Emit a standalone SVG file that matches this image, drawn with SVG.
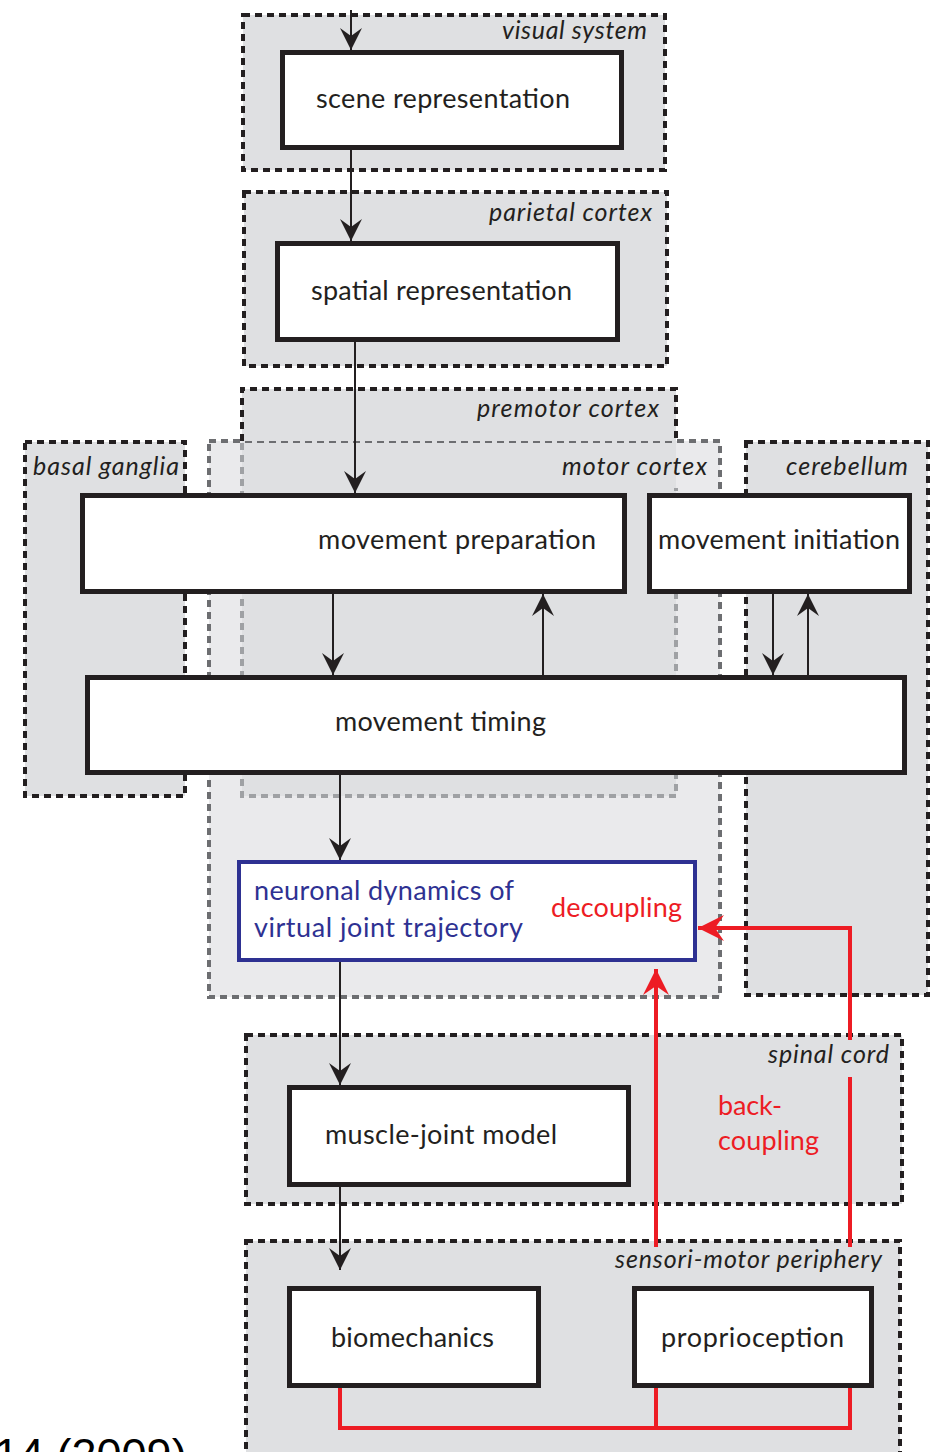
<svg xmlns="http://www.w3.org/2000/svg" width="933" height="1452" viewBox="0 0 933 1452">
<style>
.reg{fill:#dfe0e2}
.regl{fill:#eaeaec}
.bd{fill:none;stroke:#231f20;stroke-width:4;stroke-dasharray:7 5}
.gd{fill:none;stroke:#6d6e71;stroke-width:4;stroke-dasharray:7 5}
.ld{fill:none;stroke:#9fa1a4;stroke-width:4;stroke-dasharray:7 5}
.box{fill:#fff;stroke:#231f20;stroke-width:5}
.bbox{fill:#fff;stroke:#2e3192;stroke-width:4}
.t{font-family:Lato,"Open Sans",sans-serif;font-size:27px;fill:#231f20}
.lab{font-family:Lato,"Open Sans",sans-serif;font-size:25px;font-style:italic;fill:#231f20}
.blue{fill:#2e3192}
.red{fill:#ed1c24}
.c{fill:none;stroke:#231f20;stroke-width:2}
.rc{fill:none;stroke:#ed1c24;stroke-width:4}
</style>
<defs>
<marker id="ah" viewBox="-23 -12 24 24" refX="0" refY="0" markerWidth="24" markerHeight="24" markerUnits="userSpaceOnUse" orient="auto">
<path d="M0,0 L-22,-11 L-14,0 L-22,11 Z" fill="#231f20"/>
</marker>
<marker id="rah" viewBox="-27 -14 28 28" refX="0" refY="0" markerWidth="28" markerHeight="28" markerUnits="userSpaceOnUse" orient="auto">
<path d="M0,0 L-26,-13 L-17,0 L-26,13 Z" fill="#ed1c24"/>
</marker>
</defs>

<g id="regions">
<g id="visual-system">
<rect class="reg" x="243" y="15" width="422" height="155"/>
<rect class="bd" x="243" y="15" width="422" height="155"/>
<text class="lab" x="502" y="39" textLength="145">visual system</text>
</g>
<g id="parietal-cortex">
<rect class="reg" x="244" y="192" width="423" height="174"/>
<rect class="bd" x="244" y="192" width="423" height="174"/>
<text class="lab" x="489" y="221" textLength="163">parietal cortex</text>
</g>
<g id="basal-ganglia">
<rect class="reg" x="25" y="442" width="160" height="354"/>
<rect class="bd" x="25" y="442" width="160" height="354"/>
<text class="lab" x="33" y="475" textLength="146">basal ganglia</text>
</g>
<g id="cerebellum">
<rect class="reg" x="746" y="442" width="182" height="553"/>
<rect class="bd" x="746" y="442" width="182" height="553"/>
<text class="lab" x="786" y="475" textLength="122">cerebellum</text>
</g>
<g id="motor-cortex">
<rect class="regl" x="209" y="441" width="511" height="556"/>
<rect class="reg" x="242" y="441" width="434" height="355"/>
<rect class="gd" x="209" y="441" width="511" height="556"/>
</g>
<g id="premotor-cortex">
<rect class="reg" x="242" y="389" width="434" height="52"/>
<path class="bd" d="M242,441 V389 H676 V441"/>
<path class="ld" d="M242,443 V796 H676 V488"/>
<text class="lab" x="477" y="417" textLength="182">premotor cortex</text>
</g>
<text class="lab" x="562" y="475" textLength="145">motor cortex</text>
<g id="spinal-cord">
<rect class="reg" x="246" y="1035" width="656" height="169"/>
<rect class="bd" x="246" y="1035" width="656" height="169"/>
<text class="lab" x="768" y="1063" textLength="121">spinal cord</text>
</g>
<g id="sensori-motor-periphery">
<rect class="reg" x="246" y="1241" width="654" height="230"/>
<rect class="bd" x="246" y="1241" width="654" height="230"/>
<text class="lab" x="615" y="1268" textLength="267">sensori-motor periphery</text>
</g>
</g>

<g id="scene-representation">
<rect class="box" x="282.5" y="52.5" width="339" height="95"/>
<text class="t" x="316" y="108" textLength="254">scene representation</text>
</g>
<g id="spatial-representation">
<rect class="box" x="277.5" y="243.5" width="340" height="96"/>
<text class="t" x="311" y="300" textLength="261">spatial representation</text>
</g>
<g id="movement-preparation">
<rect class="box" x="82.5" y="495.5" width="542" height="96"/>
<text class="t" x="318" y="549" textLength="278">movement preparation</text>
</g>
<g id="movement-initiation">
<rect class="box" x="649.5" y="495.5" width="260" height="96"/>
<text class="t" x="658" y="549" textLength="242">movement initiation</text>
</g>
<g id="movement-timing">
<rect class="box" x="87.5" y="677.5" width="817" height="95"/>
<text class="t" x="335" y="731" textLength="211">movement timing</text>
</g>
<g id="neuronal-dynamics">
<rect class="bbox" x="239" y="862" width="456" height="98"/>
<text class="t blue" x="254" y="900" textLength="260">neuronal dynamics of</text>
<text class="t blue" x="254" y="937" textLength="269">virtual joint trajectory</text>
<text class="t red" x="551" y="917" textLength="131">decoupling</text>
</g>
<g id="muscle-joint-model">
<rect class="box" x="289.5" y="1087.5" width="339" height="97"/>
<text class="t" x="325" y="1144" textLength="232">muscle-joint model</text>
</g>
<g id="back-coupling-label">
<text class="t red" x="718" y="1115" textLength="64">back-</text>
<text class="t red" x="718" y="1150" textLength="101">coupling</text>
</g>
<g id="biomechanics">
<rect class="box" x="289.5" y="1288.5" width="249" height="97"/>
<text class="t" x="331" y="1347" textLength="163">biomechanics</text>
</g>
<g id="proprioception">
<rect class="box" x="634.5" y="1288.5" width="237" height="97"/>
<text class="t" x="661" y="1347" textLength="183">proprioception</text>
</g>

<g id="connectors">
<path class="c" d="M351,10 V50" marker-end="url(#ah)"/>
<path class="c" d="M351,150 V241" marker-end="url(#ah)"/>
<path class="c" d="M355,342 V493" marker-end="url(#ah)"/>
<path class="c" d="M333,594 V675" marker-end="url(#ah)"/>
<path class="c" d="M543,675 V594" marker-end="url(#ah)"/>
<path class="c" d="M773,594 V675" marker-end="url(#ah)"/>
<path class="c" d="M808,678 V594" marker-end="url(#ah)"/>
<path class="c" d="M340,775 V860" marker-end="url(#ah)"/>
<path class="c" d="M340,962 V1085" marker-end="url(#ah)"/>
<path class="c" d="M340,1187 V1270" marker-end="url(#ah)"/>
<path class="rc" d="M850,1040 V928 H698" marker-end="url(#rah)"/>
<path class="rc" d="M850,1077 V1247"/>
<path class="rc" d="M656,1247 V969" marker-end="url(#rah)"/>
<path class="rc" d="M340,1388 V1428 H850 V1388"/>
<path class="rc" d="M656,1428 V1388"/>
</g>

<text x="-6" y="1470" font-family="Liberation Sans, Arial, sans-serif" font-size="45" fill="#000">14 (2009)</text>
</svg>
